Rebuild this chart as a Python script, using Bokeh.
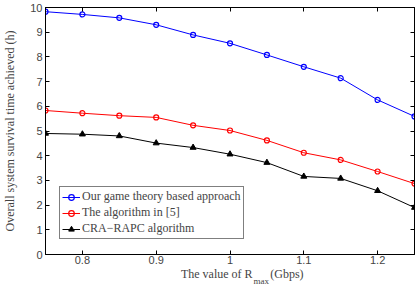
from bokeh.plotting import figure
from bokeh.layouts import column
from bokeh.models import (LinearAxis, FixedTicker, Label, Legend, LegendItem, Range1d)
from bokeh.embed import file_html
from bokeh.resources import INLINE

# ---- data ----
rmax = [0.75, 0.80, 0.85, 0.90, 0.95, 1.00, 1.05, 1.10, 1.15, 1.20, 1.25]
game_theory = [9.83, 9.72, 9.58, 9.30, 8.89, 8.55, 8.08, 7.60, 7.14, 6.26, 5.59]
algorithm5 = [5.83, 5.72, 5.62, 5.55, 5.23, 5.02, 4.62, 4.12, 3.83, 3.36, 2.87]
cra_rapc = [4.90, 4.87, 4.80, 4.51, 4.33, 4.06, 3.72, 3.16, 3.08, 2.58, 1.90]

x_ticks = [0.8, 0.9, 1.0, 1.1, 1.2]
x_tick_labels = ["0.8", "0.9", "1", "1.1", "1.2"]
y_ticks = [0, 1, 2, 3, 4, 5, 6, 7, 8, 9, 10]

series_names = ["Our game theory based approach", "The algorithm in [5]", "CRA\u2212RAPC algorithm"]
colors = ["#0000ff", "#ff0000", "#000000"]
x_title = ["The value of R", "max", "(Gbps)"]
y_title = "Overall system survival time achieved (h)"

SANS = "Liberation Sans"
SERIF = "Liberation Serif"

W = 417
p = figure(width=W, height=268, output_backend="svg", toolbar_location=None,
           x_range=Range1d(0.75, 1.25), y_range=Range1d(0, 10),
           min_border_left=43, min_border_right=3, min_border_top=7, min_border_bottom=14)
p.background_fill_color = "white"
p.border_fill_color = "white"
p.outline_line_color = "black"
p.outline_line_width = 1
p.xgrid.visible = False
p.ygrid.visible = False

for ax in p.xaxis:
    ax.ticker = FixedTicker(ticks=x_ticks)
    ax.major_label_overrides = {t: l for t, l in zip(x_ticks, x_tick_labels)}
    ax.major_label_standoff = 1
for ax in p.yaxis:
    ax.ticker = FixedTicker(ticks=y_ticks)
    ax.axis_label = y_title
    ax.axis_label_text_font = SERIF
    ax.axis_label_text_font_style = "normal"
    ax.axis_label_text_font_size = "12px"
    ax.axis_label_standoff = 10
    ax.major_label_standoff = 3

for ax in list(p.xaxis) + list(p.yaxis):
    ax.major_tick_in = 4
    ax.major_tick_out = 0
    ax.minor_tick_line_color = None
    ax.major_label_text_font = SANS
    ax.major_label_text_font_size = "11px"
    ax.axis_line_color = "black"

top = LinearAxis(ticker=FixedTicker(ticks=x_ticks),
                 major_label_overrides={t: "" for t in x_ticks},
                 major_label_standoff=0, major_tick_in=4, major_tick_out=0,
                 minor_tick_line_color=None, axis_line_color="black")
right = LinearAxis(ticker=FixedTicker(ticks=y_ticks),
                   major_label_overrides={t: "" for t in y_ticks},
                   major_label_standoff=0, major_tick_in=4, major_tick_out=0,
                   minor_tick_line_color=None, axis_line_color="black")
p.add_layout(top, "above")
p.add_layout(right, "right")

# series
l1 = p.line(rmax, game_theory, line_color=colors[0], line_width=1)
m1 = p.scatter(rmax, game_theory, marker="circle", size=5, line_color=colors[0],
               fill_color=None, line_width=1.2)
l2 = p.line(rmax, algorithm5, line_color=colors[1], line_width=1)
m2 = p.scatter(rmax, algorithm5, marker="circle", size=5, line_color=colors[1],
               fill_color=None, line_width=1.2)
l3 = p.line(rmax, cra_rapc, line_color=colors[2], line_width=1)
m3 = p.scatter(rmax, cra_rapc, marker="triangle", size=6, line_color=colors[2],
               fill_color=colors[2])

legend = Legend(items=[LegendItem(label=series_names[0], renderers=[l1, m1]),
                       LegendItem(label=series_names[1], renderers=[l2, m2]),
                       LegendItem(label=series_names[2], renderers=[l3, m3])],
                location=(14, 15), label_text_font=SERIF, label_text_font_size="12px",
                glyph_width=18, glyph_height=14, label_height=14, label_standoff=2,
                padding=2, spacing=1, margin=0,
                border_line_color="black", border_line_width=1,
                background_fill_color="white", background_fill_alpha=1)
p.add_layout(legend, "center")

# x-axis title strip (text-only figure without axes, so the subscript can be placed)
H2 = 17
p2 = figure(width=W, height=H2, output_backend="svg", toolbar_location=None,
            x_range=Range1d(0, W), y_range=Range1d(0, H2), min_border=0,
            x_axis_type=None, y_axis_type=None)
p2.grid.visible = False
p2.outline_line_color = None
p2.background_fill_color = "white"
p2.border_fill_color = "white"
p2.add_layout(Label(x=234, y=12, text=x_title[0], text_align="right",
                    text_baseline="middle", text_font=SERIF, text_font_size="12px"))
p2.add_layout(Label(x=235, y=4.5, text=x_title[1], text_align="left",
                    text_baseline="middle", text_font=SERIF, text_font_size="9px"))
p2.add_layout(Label(x=254, y=12, text=x_title[2], text_align="left",
                    text_baseline="middle", text_font=SERIF, text_font_size="12px"))

layout = column(p, p2, spacing=0)
open("out.html", "w").write(file_html(layout, INLINE))
